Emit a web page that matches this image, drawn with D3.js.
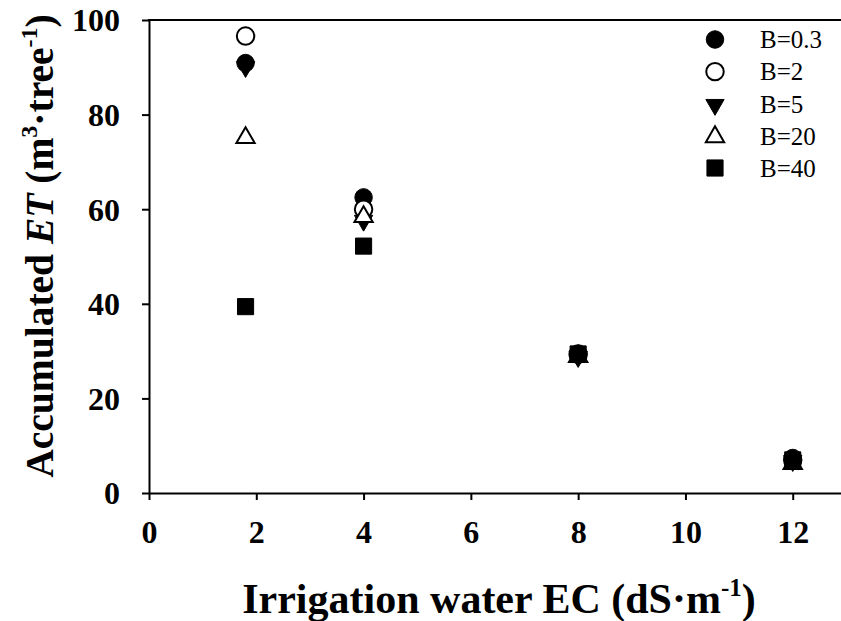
<!DOCTYPE html>
<html>
<head>
<meta charset="utf-8">
<script src="https://cdn.jsdelivr.net/npm/d3@7"></script>
<style>
html,body{margin:0;padding:0;background:#fff;}
svg{display:block;}
text{font-family:"Liberation Serif","Times New Roman",serif;fill:#000;}
</style>
</head>
<body>
<svg id="chart" width="841" height="621"></svg>
<script>
// Data
const ecLevels = [1.8, 4, 8, 12];
const seriesNames = ["B=0.3", "B=2", "B=5", "B=20", "B=40"];
const b03 = [90.9, 62.5, 29.5, 7.4];
const b2  = [96.6, 60.0, 29.3, 7.0];
const b5  = [90.3, 57.8, 29.0, 7.0];
const b20 = [75.3, 58.6, 29.0, 6.4];
const b40 = [39.4, 52.2, 29.4, 7.0];
const xTicks = [0, 2, 4, 6, 8, 10, 12];
const yTicks = [0, 20, 40, 60, 80, 100];

const seriesValues = [b03, b2, b5, b20, b40];
const markerType = ["circle", "circle", "triDown", "triUp", "square"];
const markerFill = ["#000", "#fff", "#000", "#fff", "#000"];

const FONT = '"Liberation Serif", "Times New Roman", serif';
const svg = d3.select("#chart");
const x = d3.scaleLinear().domain([0, 12.9]).range([149, 841]);
const y = d3.scaleLinear().domain([0, 100]).range([493, 20]);

function symbolPath(type) {
  if (type === "circle") return d3.symbol(d3.symbolCircle, 240)();
  if (type === "square") return d3.symbol(d3.symbolSquare, 260)();
  return d3.symbol(d3.symbolTriangle, 145)();
}
function symbolTransform(type, px, py) {
  if (type === "triDown") return `translate(${px},${py + 1}) rotate(180)`;
  if (type === "triUp") return `translate(${px},${py + 1})`;
  return `translate(${px},${py})`;
}

// Axes
const xAxis = d3.axisBottom(x).tickValues(xTicks).tickSize(7).tickSizeOuter(0).tickPadding(16);
const yAxis = d3.axisLeft(y).tickValues(yTicks).tickSize(7).tickSizeOuter(0).tickPadding(22);

const gx = svg.append("g").attr("transform", `translate(0,${y(0)})`).call(xAxis);
const gy = svg.append("g").attr("transform", `translate(${x(0)},0)`).call(yAxis);
[gx, gy].forEach(g => {
  g.attr("font-family", null);
  g.select(".domain").attr("stroke", "#000").attr("stroke-width", 2);
  g.selectAll(".tick line").attr("stroke", "#000").attr("stroke-width", 2);
  g.selectAll(".tick text").style("font-family", FONT)
    .style("font-weight", "bold").style("font-size", "32px").attr("fill", "#000");
});
gx.selectAll(".tick text").attr("dy", "0.85em");
gy.selectAll(".tick text").attr("dy", "0.34em");

// top frame line
svg.append("line").attr("x1", x(0) - 1).attr("x2", 841).attr("y1", y(100)).attr("y2", y(100))
  .attr("stroke", "#000").attr("stroke-width", 2);

// Points
seriesValues.forEach((vals, si) => {
  svg.append("g").selectAll("path").data(vals).join("path")
    .attr("d", symbolPath(markerType[si]))
    .attr("transform", (d, i) => symbolTransform(markerType[si], x(ecLevels[i]), y(d)))
    .attr("fill", markerFill[si])
    .attr("stroke", "#000")
    .attr("stroke-width", markerFill[si] === "#fff" ? 2 : 1);
});

// Legend
const legendY = d3.scaleLinear().domain([0, 4]).range([39.5, 168]);
const lg = svg.append("g");
seriesNames.forEach((name, si) => {
  const py = legendY(si);
  lg.append("path").attr("d", symbolPath(markerType[si]))
    .attr("transform", symbolTransform(markerType[si], 715, py))
    .attr("fill", markerFill[si]).attr("stroke", "#000")
    .attr("stroke-width", markerFill[si] === "#fff" ? 2 : 1);
  lg.append("text").attr("x", 760).attr("y", py).attr("dy", "0.35em")
    .style("font-family", FONT).style("font-size", "25px").text(name);
});

// X title
const xt = svg.append("text").attr("x", 499).attr("y", 613).attr("text-anchor", "middle")
  .style("font-family", FONT).style("font-size", "42px").style("font-weight", "bold");
xt.append("tspan").text("Irrigation water EC (dS·m");
xt.append("tspan").style("font-size", "25px").attr("dy", -17).text("-1");
xt.append("tspan").attr("dy", 17).text(")");

// Y title
const yt = svg.append("text").attr("transform", "translate(53,246) rotate(-90)")
  .attr("text-anchor", "middle")
  .style("font-family", FONT).style("font-size", "39.5px").style("font-weight", "bold");
yt.append("tspan").text("Accumulated ");
yt.append("tspan").style("font-style", "italic").text("ET");
yt.append("tspan").text(" (m");
yt.append("tspan").style("font-size", "24px").attr("dy", -16).text("3");
yt.append("tspan").attr("dy", 16).text("·tree");
yt.append("tspan").style("font-size", "24px").attr("dy", -16).text("-1");
yt.append("tspan").attr("dy", 16).text(")");
</script>
</body>
</html>
